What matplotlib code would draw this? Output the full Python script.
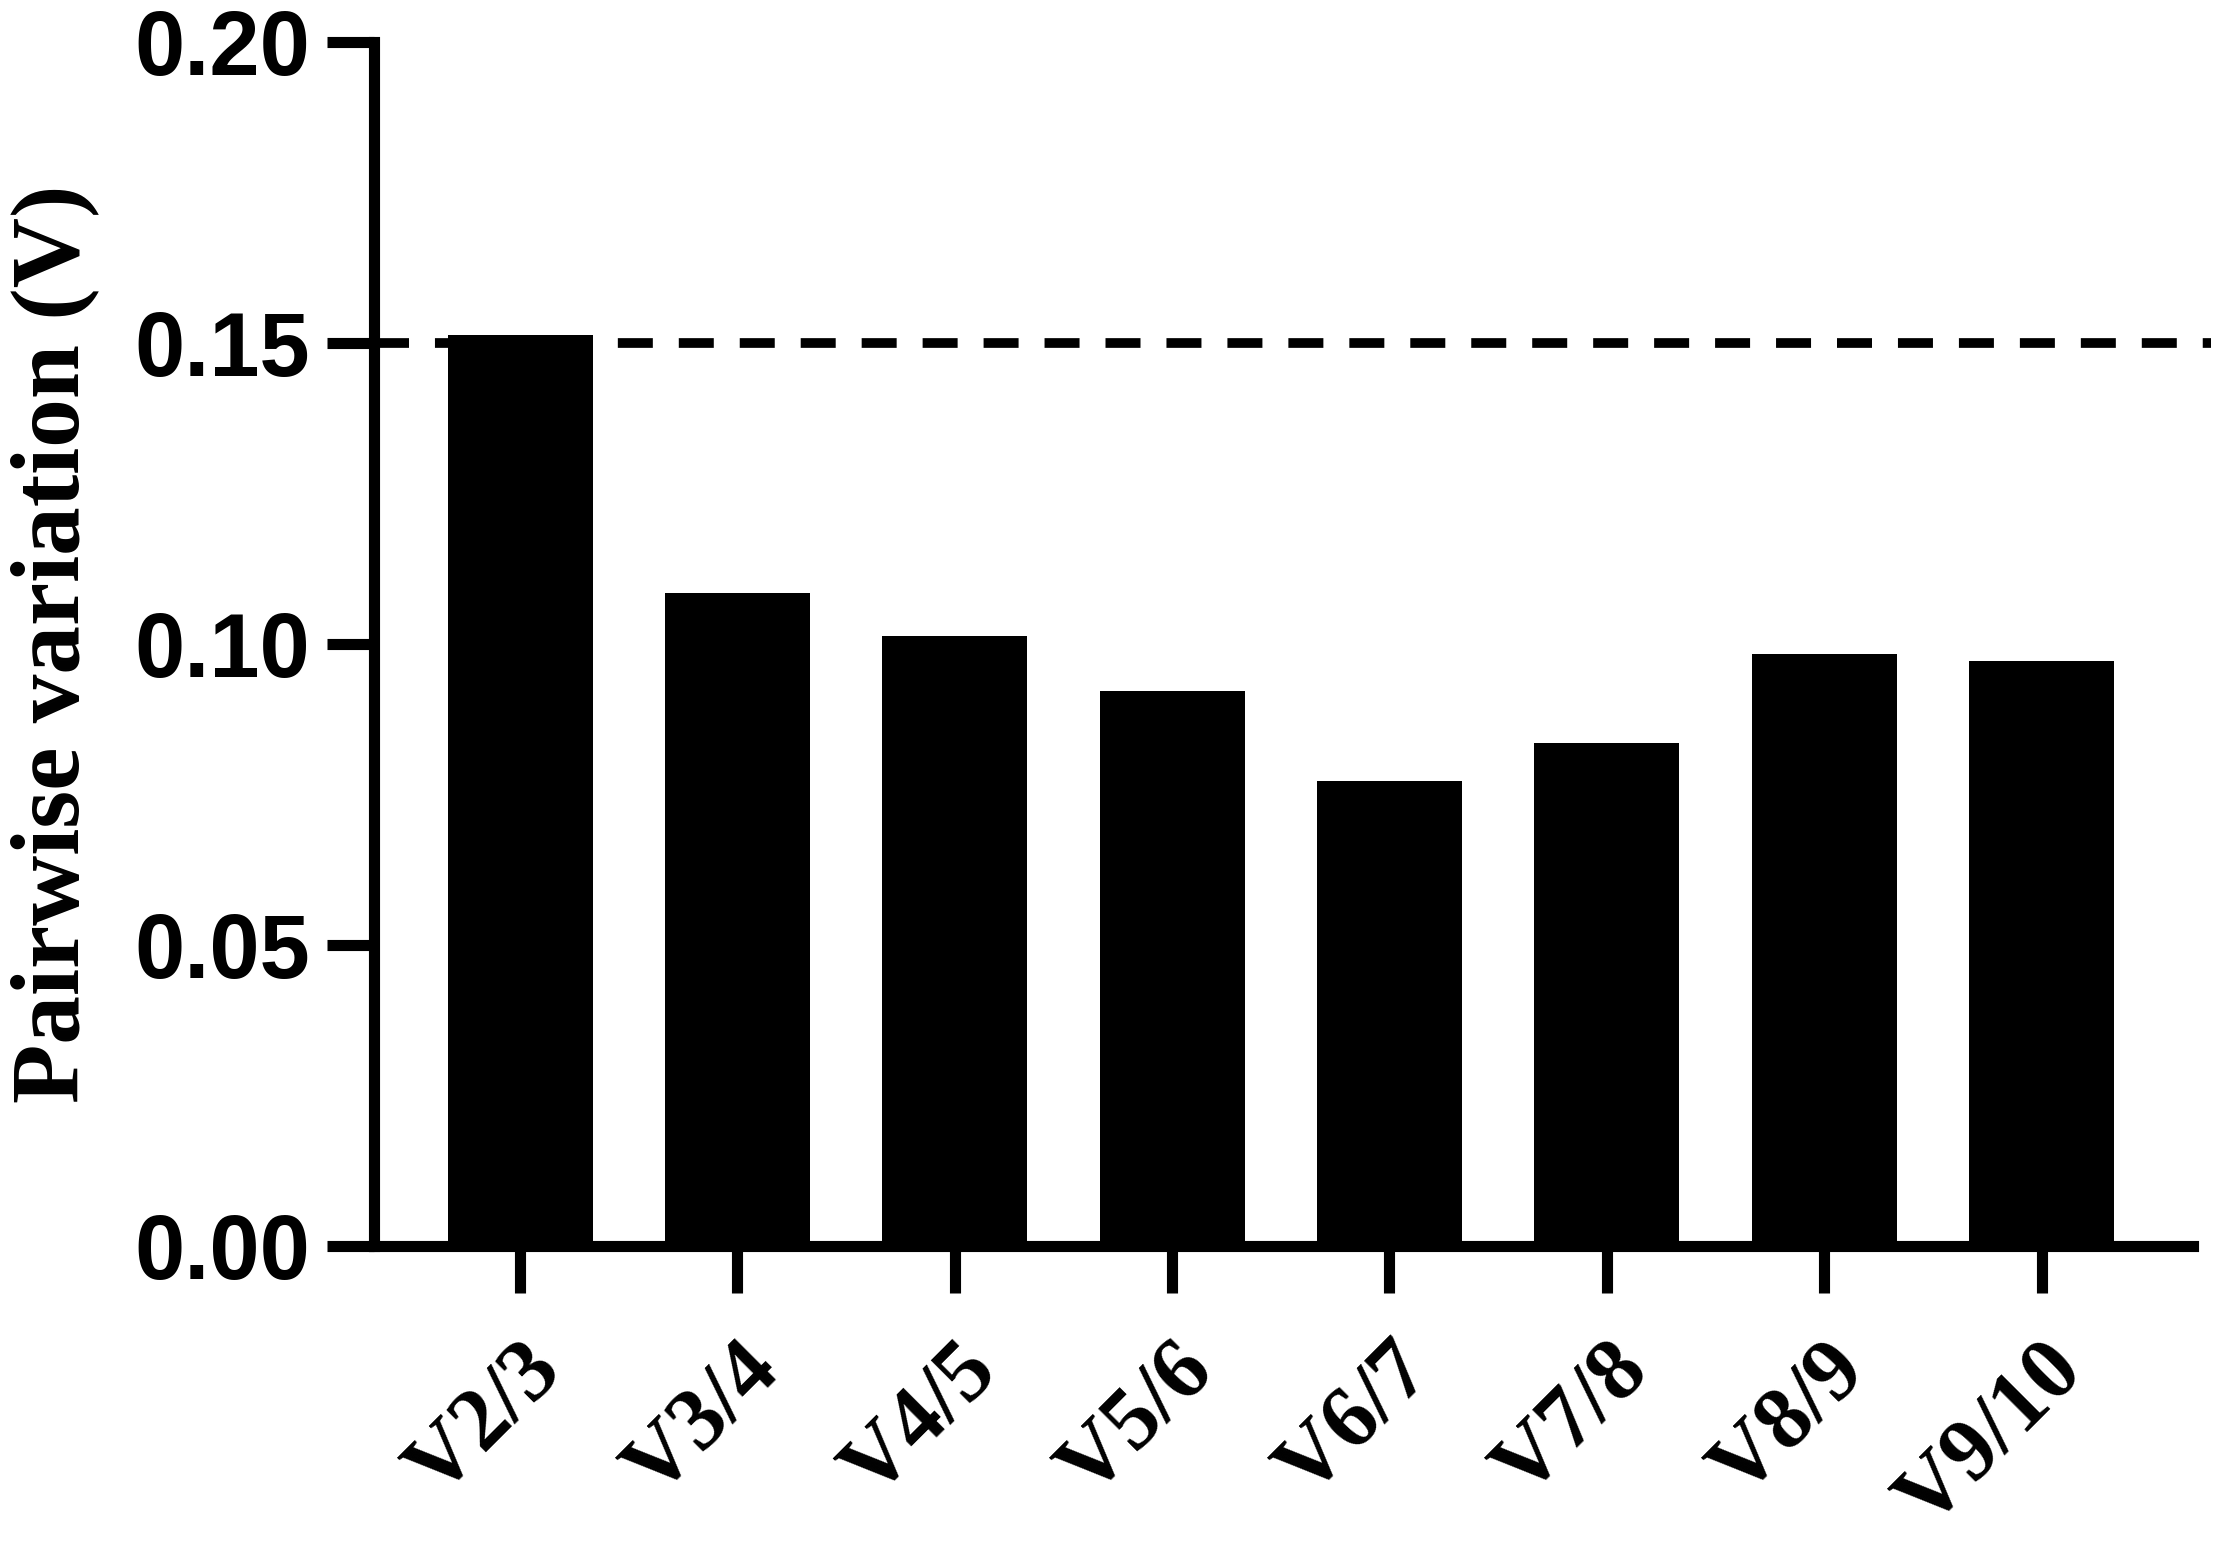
import matplotlib.pyplot as plt
import numpy as np

# Datos
categories = ["V2/3", "V3/4", "V4/5", "V5/6", "V6/7", "V7/8", "V8/9", "V9/10"]
values = [0.1513, 0.1085, 0.1014, 0.0922, 0.0772, 0.0835, 0.0984, 0.0972]
cutoff = 0.15
y_ticks = [0.00, 0.05, 0.10, 0.15, 0.20]

fig = plt.figure(figsize=(22.17, 15.49), dpi=100)
ax = fig.add_axes([0.1687, 0.1956, 0.8203, 0.7773])

x = np.arange(len(categories))
ax.bar(x, values, width=0.667, color='black', zorder=3)

# Línea de corte
ax.axhline(cutoff, xmax=1.01, color='black', lw=7, dashes=(3.6, 2.67), zorder=2, clip_on=False)

ax.set_xlim(-0.672, len(categories) - 1 + 0.695)
ax.set_ylim(0, 0.20)
ax.set_yticks(y_ticks)
ax.set_yticklabels([f"{t:.2f}" for t in y_ticks], fontsize=65, fontweight='bold', family='Liberation Sans')
ax.set_xticks(x)
ax.set_xticklabels(categories, rotation=45, ha='right', rotation_mode='anchor',
                   fontsize=64, fontweight='bold', family='Liberation Serif')

ax.set_ylabel('Pairwise variation (V)', fontsize=70, fontweight='bold', family='Liberation Serif', labelpad=25)

for side in ['top', 'right']:
    ax.spines[side].set_visible(False)
for side in ['left', 'bottom']:
    ax.spines[side].set_linewidth(8)
ax.tick_params(axis='both', length=34, width=8, color='black')
ax.tick_params(axis='y', pad=12)
ax.tick_params(axis='x', pad=26)

fig.savefig('out.png', dpi=100)
